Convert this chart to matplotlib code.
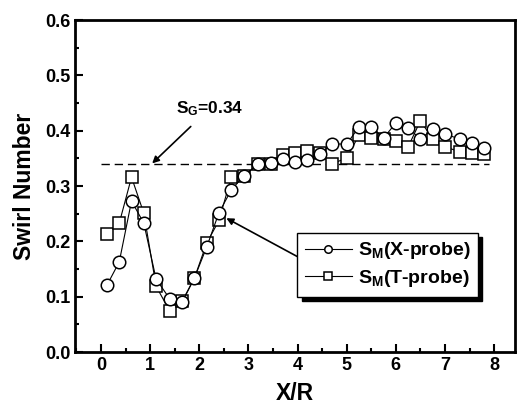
import numpy as np
import matplotlib
matplotlib.use("Agg")
import matplotlib.pyplot as plt
from matplotlib.ticker import MultipleLocator

plt.rcParams['font.family'] = ['Liberation Sans', 'DejaVu Sans']
plt.rcParams['font.weight'] = 'bold'
plt.rcParams['mathtext.fontset'] = 'custom'
plt.rcParams['mathtext.rm'] = 'Liberation Sans:bold'
plt.rcParams['mathtext.it'] = 'Liberation Sans:bold'
plt.rcParams['mathtext.default'] = 'rm'

# axial stations, X/R
xr = [0.12, 0.37, 0.62, 0.87, 1.12, 1.40, 1.65, 1.90, 2.15, 2.40, 2.65,
      2.90, 3.20, 3.45, 3.70, 3.95, 4.20, 4.45, 4.70, 5.00, 5.25, 5.50,
      5.75, 6.00, 6.25, 6.50, 6.75, 7.00, 7.30, 7.55, 7.80]

# swirl number from X-probe
sm_x = [0.121, 0.163, 0.273, 0.233, 0.132, 0.096, 0.090, 0.134, 0.190, 0.252,
        0.293, 0.318, 0.340, 0.342, 0.349, 0.344, 0.347, 0.358, 0.376, 0.376,
        0.407, 0.407, 0.387, 0.414, 0.405, 0.385, 0.403, 0.394, 0.385, 0.378,
        0.369]

# swirl number from T-probe
sm_t = [0.213, 0.233, 0.316, 0.251, 0.119, 0.074, 0.092, 0.134, 0.197, 0.238,
        0.316, 0.318, 0.340, 0.340, 0.356, 0.360, 0.363, 0.360, 0.340, 0.351,
        0.392, 0.387, 0.385, 0.382, 0.371, 0.418, 0.385, 0.371, 0.362, 0.360,
        0.358]

s_g = 0.34

fig = plt.figure(figsize=(5.21, 4.09), dpi=100)
ax = fig.add_axes([0.144, 0.139, 0.845, 0.812])

ax.plot(xr, sm_x, '-', color='black', lw=0.8, marker='o', ms=9,
        mfc='white', mec='black', mew=1.1, label=r'S$_M$(X-probe)', zorder=3)
ax.plot(xr, sm_t, '-', color='black', lw=0.8, marker='s', ms=8.5,
        mfc='white', mec='black', mew=1.1, label=r'S$_M$(T-probe)', zorder=2)

ax.plot([0, 7.9], [s_g, s_g], color='black', lw=1, ls=(0, (6, 3.5)), zorder=1)

ax.annotate(r'S$_G$=0.34', xy=(1.04, 0.341), xytext=(1.52, 0.44),
            fontsize=12.5, fontweight='bold', ha='left', va='center',
            arrowprops=dict(arrowstyle='-|>', color='black', lw=1.2,
                            mutation_scale=10, shrinkA=6, shrinkB=0))
ax.annotate('', xy=(2.55, 0.242), xytext=(4.05, 0.17),
            arrowprops=dict(arrowstyle='-|>', color='black', lw=1.2,
                            mutation_scale=10, shrinkA=0, shrinkB=0))

leg = ax.legend(loc='upper left', bbox_to_anchor=(0.505, 0.36), fontsize=14,
                frameon=True, fancybox=False, edgecolor='black', markerscale=0.6,
                handlelength=2.4, borderpad=0.4, labelspacing=0.35,
                handletextpad=0.3, borderaxespad=0,
                shadow={'color': 'black', 'alpha': 1, 'ox': 3, 'oy': -3})
leg.get_frame().set_linewidth(1.0)
for t in leg.get_texts():
    t.set_fontweight('bold')

ax.set_xlim(-0.53, 8.43)
ax.set_ylim(0, 0.6)
ax.xaxis.set_major_locator(MultipleLocator(1))
ax.xaxis.set_minor_locator(MultipleLocator(0.5))
ax.yaxis.set_major_locator(MultipleLocator(0.1))
ax.yaxis.set_minor_locator(MultipleLocator(0.05))
ax.yaxis.set_major_formatter(matplotlib.ticker.FormatStrFormatter('%.1f'))
ax.tick_params(which='both', direction='in', width=1.5, top=False, right=False,
               labelsize=13)
ax.tick_params(which='major', length=6)
ax.tick_params(which='minor', length=3)
for lab in ax.get_xticklabels() + ax.get_yticklabels():
    lab.set_fontweight('bold')
for s in ax.spines.values():
    s.set_linewidth(2)

ax.set_xlabel('X/R', fontsize=16.5, fontweight='bold', labelpad=6)
ax.set_ylabel('Swirl Number', fontsize=16.5, fontweight='bold', labelpad=6)

fig.savefig('out.png', dpi=100)
